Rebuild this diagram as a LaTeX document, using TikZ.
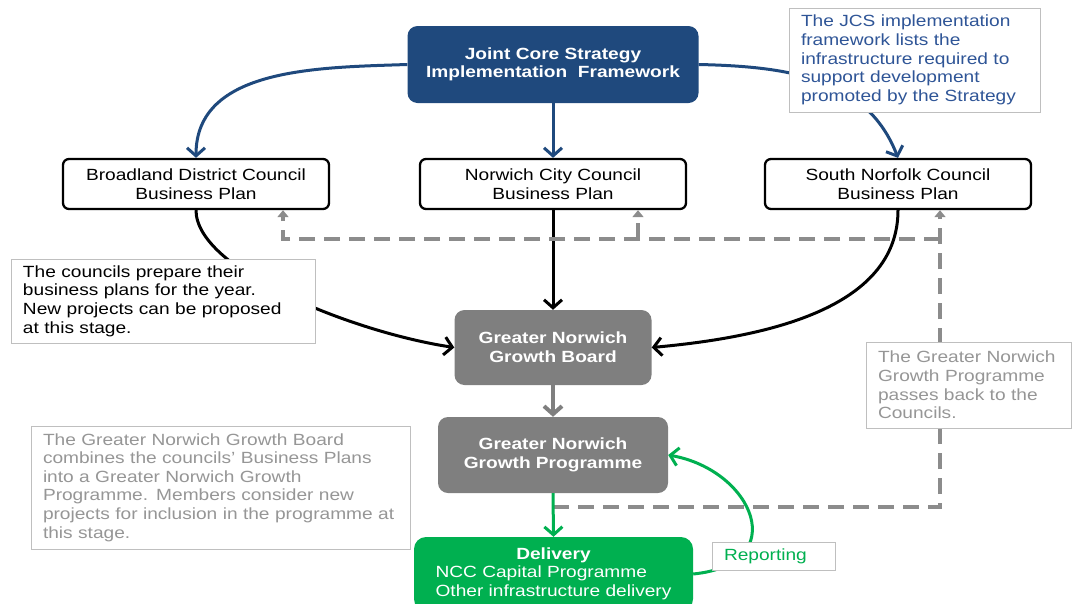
\documentclass[tikz,border=0pt]{standalone}
\usepackage{fontspec}
\setmainfont[FakeStretch=1.18]{Liberation Sans}
\usetikzlibrary{arrows.meta}
\definecolor{jcsblue}{RGB}{31,73,125}
\definecolor{jcstext}{RGB}{47,85,151}
\definecolor{gngray}{RGB}{127,127,127}
\definecolor{backgray}{RGB}{140,140,140}
\definecolor{notegray}{RGB}{150,150,150}
\definecolor{noteline}{RGB}{191,191,191}
\definecolor{delgreen}{RGB}{0,176,80}
\newcommand{\plainsize}{\fontsize{16.2}{18.6}\selectfont}
\tikzset{
  plan/.style={draw=black, line width=2.3pt, rounded corners=6pt, fill=white,
    minimum width=266pt, minimum height=50pt, align=center},
  board/.style={fill=gngray, text=white, rounded corners=10pt, align=center,
    font=\plainsize\bfseries},
  note/.style={draw=noteline, line width=0.8pt, fill=white, align=left,
    inner xsep=12pt, inner ysep=0pt},
  link/.style={line width=3pt, -{Straight Barb[length=8pt,width=18pt]}},
  back/.style={draw=backgray, line width=3.5pt, dash pattern=on 16pt off 9pt,
    -{Triangle[length=7pt,width=11pt]}}
}
\begin{document}
\begin{tikzpicture}[x=1pt,y=-1pt,font=\plainsize]
\useasboundingbox (0,0) rectangle (1073,603);
\clip (0,0) rectangle (1073,603);

\node[board, fill=jcsblue, minimum width=291pt, minimum height=77pt] (jcs) at (553,64.5)
  {Joint Core Strategy\\Implementation\ \ Framework};
\node[plan] (bdc) at (196,184) {Broadland District Council\\Business Plan};
\node[plan] (ncc) at (553,184) {Norwich City Council\\Business Plan};
\node[plan] (snc) at (898,184) {South Norfolk Council\\Business Plan};
\node[board, minimum width=197pt, minimum height=75pt] (gngb) at (553,347.5)
  {Greater Norwich\\Growth Board};
\node[board, minimum width=230pt, minimum height=76pt] (gnp) at (553,455)
  {Greater Norwich\\Growth Programme};
\node[board, fill=delgreen, font=\plainsize, rounded corners=12pt,
      minimum width=279pt, minimum height=74pt] (del) at (553.5,574)
  {\begin{tabular}{@{}l@{}}\multicolumn{1}{@{}c@{}}{\bfseries Delivery}\\
   NCC Capital Programme\\Other infrastructure delivery\end{tabular}};

\draw[link, jcsblue] (jcs.west) .. controls +(-90,3) and +(0,-90) .. (bdc.north);
\draw[link, jcsblue] (jcs.south) -- (ncc.north);
\draw[link, jcsblue] (jcs.east) .. controls +(90,2) and +(-31,-80) .. (snc.north);

\draw[link] (bdc.south) .. controls +(0,60) and +(-100,-15) .. (gngb.west);
\draw[link] (ncc.south) -- (gngb.north);
\draw[link] (snc.south) .. controls +(0,100) and +(110,-10) .. (gngb.east);

\coordinate (fb) at (553,507);
\coordinate (retn) at (940,239);
\coordinate (sncret) at ([xshift=42pt]snc.south);
\coordinate (bdcret) at ([xshift=87pt]bdc.south);
\coordinate (nccret) at ([xshift=85pt]ncc.south);
\draw[back] (fb) -| (sncret);
\draw[back] (retn) -| (bdcret);
\draw[back] (nccret |- retn) -- (nccret);

\draw[link, gngray, line width=4pt] (gngb.south) -- (gnp.north);
\draw[link, delgreen] (gnp.south) -- (del.north);
\draw[link, delgreen] (del.east) .. controls +(100,-10) and +(85,15) .. (gnp.east);

\node[note, text=black, text width=280pt, minimum height=84pt] (prepnote) at (163,301)
  {The councils prepare their\\business plans for the year.\\New projects can be proposed\\at this stage.};
\node[note, text=jcstext, text width=227pt, minimum height=104pt] (jcsnote) at (914.5,60)
  {The JCS implementation\\framework lists the\\infrastructure required to\\support development\\promoted by the Strategy};
\node[note, text=notegray, text width=355pt, minimum height=123pt] (boardnote) at (220.5,487.5)
  {The Greater Norwich Growth Board\\combines the councils' Business Plans\\into a Greater Norwich Growth\\Programme. Members consider new\\projects for inclusion in the programme at\\this stage.};
\node[note, text=notegray, text width=181pt, minimum height=86pt] (passnote) at (968.5,385)
  {The Greater Norwich\\Growth Programme\\passes back to the\\Councils.};
\node[note, text=delgreen, text width=99pt, minimum height=28pt] (repnote) at (773.5,556)
  {Reporting};
\end{tikzpicture}
\end{document}
